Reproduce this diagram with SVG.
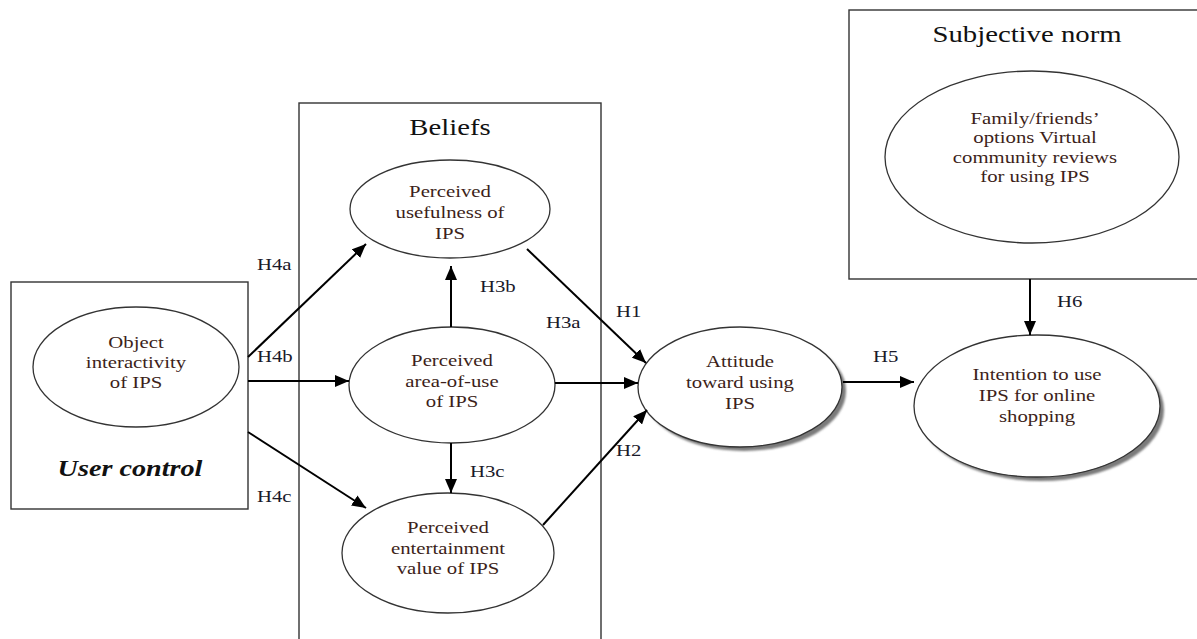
<svg xmlns="http://www.w3.org/2000/svg" width="1197" height="639" viewBox="0 0 1197 639" font-family="'Liberation Serif', 'DejaVu Serif', serif">
<style>
  .box{fill:none;stroke:#333;stroke-width:1.4}
  .ell{fill:#fff;stroke:#333;stroke-width:1.3}
  .shadow{fill:#7a7a7a}
  .conn{stroke:#000;stroke-width:2;fill:none;marker-end:url(#arr)}
  .nt{font-family:"Liberation Serif","DejaVu Serif",serif;font-size:17.6px;fill:#3d1f1a;text-anchor:middle}
  .lbl{font-family:"Liberation Serif","DejaVu Serif",serif;font-size:17.6px;fill:#1a1a2a}
  .title{font-family:"Liberation Serif","DejaVu Serif",serif;font-size:23px;fill:#111;text-anchor:middle}
  .uc{font-family:"Liberation Serif","DejaVu Serif",serif;font-size:23.5px;font-weight:bold;font-style:italic;fill:#111;text-anchor:middle}
</style>
<defs>
  <marker id="arr" markerUnits="userSpaceOnUse" viewBox="0 0 14 12" refX="14" refY="6" markerWidth="14" markerHeight="12" orient="auto">
    <path d="M0,0 L14,6 L0,12 z" fill="#000"/>
  </marker>
  <filter id="blur" x="-10%" y="-10%" width="120%" height="120%">
    <feGaussianBlur stdDeviation="1.3"/>
  </filter>
</defs>
<rect width="1197" height="639" fill="#fff"/>

<g id="user-control">
  <rect class="box" x="11" y="282" width="237" height="227"/>
  <g transform="translate(130,0) scale(1.2,1)"><text class="uc" x="0" y="476">User control</text></g>
</g>

<g id="object-interactivity">
  <ellipse class="ell" cx="136" cy="367" rx="103" ry="60"/>
  <g transform="translate(136,0) scale(1.18,1)">
    <text class="nt" x="0" y="348">Object</text>
    <text class="nt" x="0" y="368">interactivity</text>
    <text class="nt" x="0" y="388">of IPS</text>
  </g>
</g>

<g id="beliefs">
  <rect class="box" x="299" y="103" width="302" height="560"/>
  <g transform="translate(450,0) scale(1.25,1)"><text class="title" x="0" y="135">Beliefs</text></g>
</g>

<g id="perceived-usefulness">
  <ellipse class="ell" cx="450" cy="209" rx="100" ry="49"/>
  <g transform="translate(450,0) scale(1.18,1)">
    <text class="nt" x="0" y="197">Perceived</text>
    <text class="nt" x="0" y="218">usefulness of</text>
    <text class="nt" x="0" y="239">IPS</text>
  </g>
</g>

<g id="perceived-area-of-use">
  <ellipse class="ell" cx="452" cy="385" rx="103" ry="58"/>
  <g transform="translate(452,0) scale(1.18,1)">
    <text class="nt" x="0" y="366">Perceived</text>
    <text class="nt" x="0" y="387">area-of-use</text>
    <text class="nt" x="0" y="407">of IPS</text>
  </g>
</g>

<g id="perceived-entertainment">
  <ellipse class="ell" cx="448" cy="553" rx="106" ry="60"/>
  <g transform="translate(448,0) scale(1.18,1)">
    <text class="nt" x="0" y="533">Perceived</text>
    <text class="nt" x="0" y="554">entertainment</text>
    <text class="nt" x="0" y="574">value of IPS</text>
  </g>
</g>

<g id="attitude">
  <ellipse class="shadow" cx="744" cy="391" rx="102" ry="60" filter="url(#blur)"/>
  <ellipse class="ell" cx="740" cy="387" rx="102" ry="60"/>
  <g transform="translate(740,0) scale(1.18,1)">
    <text class="nt" x="0" y="367">Attitude</text>
    <text class="nt" x="0" y="388">toward using</text>
    <text class="nt" x="0" y="409">IPS</text>
  </g>
</g>

<g id="subjective-norm">
  <rect class="box" x="849" y="10" width="360" height="269"/>
  <g transform="translate(1027,0) scale(1.25,1)"><text class="title" x="0" y="42">Subjective norm</text></g>
</g>

<g id="family-friends">
  <ellipse class="ell" cx="1032" cy="157" rx="147" ry="86"/>
  <g transform="translate(1035,0) scale(1.18,1)">
    <text class="nt" x="0" y="124">Family/friends’</text>
    <text class="nt" x="0" y="143">options Virtual</text>
    <text class="nt" x="0" y="163">community reviews</text>
    <text class="nt" x="0" y="182">for using IPS</text>
  </g>
</g>

<g id="intention">
  <ellipse class="shadow" cx="1041" cy="410" rx="123" ry="71" filter="url(#blur)"/>
  <ellipse class="ell" cx="1037" cy="406" rx="123" ry="71"/>
  <g transform="translate(1037,0) scale(1.18,1)">
    <text class="nt" x="0" y="380">Intention to use</text>
    <text class="nt" x="0" y="401">IPS for online</text>
    <text class="nt" x="0" y="422">shopping</text>
  </g>
</g>

<g id="connectors">
  <line class="conn" x1="248" y1="357" x2="366" y2="244"/>
  <line class="conn" x1="248" y1="381" x2="349" y2="381"/>
  <line class="conn" x1="248" y1="432" x2="366" y2="508"/>
  <line class="conn" x1="451" y1="327" x2="451" y2="266"/>
  <line class="conn" x1="451" y1="443" x2="451" y2="493"/>
  <line class="conn" x1="527" y1="249" x2="646" y2="363"/>
  <line class="conn" x1="555" y1="383" x2="638" y2="383"/>
  <line class="conn" x1="543" y1="525" x2="647" y2="410"/>
  <line class="conn" x1="843" y1="382" x2="914" y2="382"/>
  <line class="conn" x1="1030" y1="279" x2="1030" y2="335"/>
  <g transform="translate(257,270) scale(1.18,1)"><text class="lbl" x="0" y="0">H4a</text></g>
  <g transform="translate(257,362) scale(1.18,1)"><text class="lbl" x="0" y="0">H4b</text></g>
  <g transform="translate(257,502) scale(1.18,1)"><text class="lbl" x="0" y="0">H4c</text></g>
  <g transform="translate(480,292) scale(1.18,1)"><text class="lbl" x="0" y="0">H3b</text></g>
  <g transform="translate(546,328) scale(1.18,1)"><text class="lbl" x="0" y="0">H3a</text></g>
  <g transform="translate(470,477) scale(1.18,1)"><text class="lbl" x="0" y="0">H3c</text></g>
  <g transform="translate(616,317) scale(1.18,1)"><text class="lbl" x="0" y="0">H1</text></g>
  <g transform="translate(616,456) scale(1.18,1)"><text class="lbl" x="0" y="0">H2</text></g>
  <g transform="translate(873,362) scale(1.18,1)"><text class="lbl" x="0" y="0">H5</text></g>
  <g transform="translate(1057,307) scale(1.18,1)"><text class="lbl" x="0" y="0">H6</text></g>
</g>
</svg>
